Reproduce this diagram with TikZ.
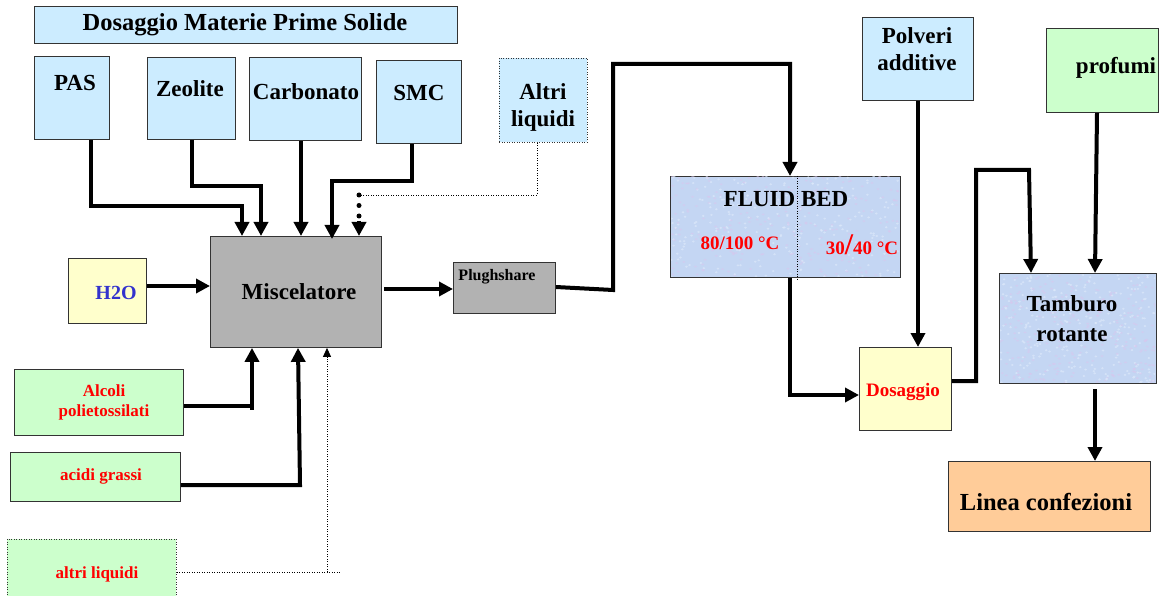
\documentclass[tikz,border=0pt]{standalone}
\usepackage{fontspec}
\setmainfont{Liberation Serif}
\usetikzlibrary{arrows.meta}

\definecolor{skyfill}{HTML}{CCECFF}
\definecolor{mintfill}{HTML}{CCFFCC}
\definecolor{creamfill}{HTML}{FFFFCC}
\definecolor{greyfill}{HTML}{B2B2B2}
\definecolor{peachfill}{HTML}{FFCC99}
\definecolor{bedfill}{HTML}{C4D6F3}
\definecolor{specklila}{HTML}{D9C6EE}
\definecolor{speckpale}{HTML}{DCE8FA}
\definecolor{edgegrey}{HTML}{333333}
\definecolor{waterblue}{HTML}{3333CC}
\definecolor{hotred}{HTML}{FF0000}

\tikzset{
  box/.style={rectangle, draw=edgegrey, line width=0.9pt, inner sep=0pt, anchor=north west},
  dotbox/.style={box, dash pattern=on 1pt off 1.5pt},
  lbl/.style={inner sep=0pt, font=\bfseries\fontsize{23}{27}\selectfont, align=center},
  smalllbl/.style={inner sep=0pt, font=\bfseries\fontsize{17}{20}\selectfont, align=center, text=hotred},
  pipe/.style={line width=4pt},
  flow/.style={line width=4pt, -{Triangle[length=14pt,width=14pt]}},
  thinflow/.style={line width=0.8pt, dash pattern=on 1pt off 1.5pt},
  fatdots/.style={line width=5pt, line cap=round, dash pattern=on 0pt off 10.5pt},
}

% speckled texture inside a rectangle: #1,#2 = top left, #3,#4 = size
\newcommand{\speckle}[4]{%
  \begin{scope}
    \clip (#1+1,#2+1) rectangle (#1+#3-1,#2+#4-1);
    \foreach \k in {1,...,260} {
      \pgfmathsetmacro{\sx}{#1+#3*rnd}
      \pgfmathsetmacro{\sy}{#2+#4*rnd}
      \fill[specklila, opacity=0.55] (\sx,\sy) ellipse (1.6 and 1.0);
      \pgfmathsetmacro{\tx}{#1+#3*rnd}
      \pgfmathsetmacro{\ty}{#2+#4*rnd}
      \fill[speckpale, opacity=0.7] (\tx,\ty) ellipse (1.4 and 1.1);
    }
  \end{scope}}

\begin{document}
\begin{tikzpicture}[x=1pt,y=-1pt]
\pgfmathsetseed{11}
\useasboundingbox (0,0) rectangle (1167,596);
\fill[white] (0,0) rectangle (1167,596);

% ---- solid raw materials ----
\node[box, fill=skyfill, minimum width=423, minimum height=37] (title) at (34,6) {};
\node[lbl, font=\bfseries\fontsize{24.5}{28}\selectfont] (title-t) at (245,25) {Dosaggio Materie Prime Solide};

\node[box, fill=skyfill, minimum width=75, minimum height=83] (pas) at (34,56) {};
\node[lbl] (pas-t) at (75,83) {PAS};
\node[box, fill=skyfill, minimum width=88, minimum height=82] (zeo) at (147,57) {};
\node[lbl] (zeo-t) at (190,89) {Zeolite};
\node[box, fill=skyfill, minimum width=112, minimum height=83] (carb) at (249,57) {};
\node[lbl] (carb-t) at (306,92) {Carbonato};
\node[box, fill=skyfill, minimum width=85, minimum height=83] (smc) at (376,60) {};
\node[lbl] (smc-t) at (419,93) {SMC};
\node[dotbox, fill=skyfill, minimum width=88, minimum height=84] (altri) at (499,58) {};
\node[lbl] (altri-t) at (543,107) {Altri\\liquidi};

% ---- mixer and liquids ----
\node[box, fill=greyfill, minimum width=171, minimum height=111] (mix) at (210,236) {};
\node[lbl] (mix-t) at (299,292) {Miscelatore};
\node[box, fill=creamfill, minimum width=78, minimum height=65] (h2o) at (68,258) {};
\node[lbl, font=\bfseries\fontsize{20}{24}\selectfont, text=waterblue] (h2o-t) at (116,293) {H2O};
\node[box, fill=greyfill, minimum width=102, minimum height=51] (plug) at (453,262) {};
\node[lbl, font=\bfseries\fontsize{16}{19}\selectfont] (plug-t) at (497,277) {Plughshare};

\node[box, fill=mintfill, minimum width=169, minimum height=66] (alc) at (14,369) {};
\node[smalllbl] (alc-t) at (104,402) {Alcoli\\polietossilati};
\node[box, fill=mintfill, minimum width=170, minimum height=49] (acid) at (10,452) {};
\node[smalllbl] (acid-t) at (101,476) {acidi grassi};
\node[dotbox, fill=mintfill, minimum width=169, minimum height=62] (altl) at (7,539) {};
\node[smalllbl] (altl-t) at (97,574) {altri liquidi};

% ---- drying and finishing ----
\node[box, fill=bedfill, minimum width=230, minimum height=101] (fb) at (670,176) {};
\speckle{670}{176}{230}{101}
\node[lbl] (fb-t) at (786,199) {FLUID BED};
\node[smalllbl, font=\bfseries\fontsize{19}{22}\selectfont] (fb-hot) at (740,243) {80/100 °C};
\node[smalllbl, font=\bfseries\fontsize{19}{22}\selectfont] (fb-cold) at (862,245) {30{\fontsize{30}{30}\selectfont/}40 °C};
\draw[thinflow] (797,176) -- (797,280);

\node[box, fill=skyfill, minimum width=111, minimum height=83] (pol) at (862,17) {};
\node[lbl] (pol-t) at (917,49) {Polveri\\additive};
\node[box, fill=mintfill, minimum width=112, minimum height=84] (prof) at (1046,28) {};
\node[lbl] (prof-t) at (1116,68) {profumi};
\node[box, fill=bedfill, minimum width=157, minimum height=110] (tam) at (999,273) {};
\speckle{999}{273}{157}{110}
\node[lbl, font=\bfseries\fontsize{23}{30}\selectfont] (tam-t) at (1072,319) {Tamburo\\rotante};
\node[box, fill=creamfill, minimum width=92, minimum height=83] (dos) at (859,347) {};
\node[smalllbl, font=\bfseries\fontsize{19}{22}\selectfont] (dos-t) at (903,392) {Dosaggio};
\node[box, fill=peachfill, minimum width=202, minimum height=70] (lin) at (948,461) {};
\node[lbl, font=\bfseries\fontsize{24.5}{28}\selectfont] (lin-t) at (1046,502) {Linea confezioni};

% ---- connectors ----
\coordinate (altriJoin) at (359,195);
\coordinate (dotEnd) at (359,221);
\coordinate (tamOut) at (1095,389);

\draw[flow] (91,0 |- pas.south) -- (91,206) -- (242,206) -- (242,0 |- mix.north);
\draw[flow] (192,0 |- zeo.south) -- (192,186) -- (261,186) -- (261,0 |- mix.north);
\draw[flow] (301,0 |- carb.south) -- (301,0 |- mix.north);
\draw[flow] (412,0 |- smc.south) -- (412,181) -- (332,181) -- (332,239);
\draw[thinflow] (537,0 |- altri.south) -- (537,195) -- (altriJoin);
\draw[fatdots] (altriJoin) -- (dotEnd);
\draw[flow] (dotEnd) -- (359,0 |- mix.north);

\draw[flow] (h2o.east |- 0,286) -- (mix.west |- 0,286);
\draw[flow] (384,289) -- (plug.west |- 0,289);

\draw[flow] (alc.east |- 0,406) -- (252,406) -- (252,0 |- mix.south);
\draw[pipe] (252,406) -- (252,410);
\draw[flow] (acid.east |- 0,485) -- (300,485) -- (298,0 |- mix.south);
\draw[thinflow] (altl.east |- 0,572) -- (340,572);
\draw[thinflow, -{Triangle[length=9pt,width=8pt]}] (327,572) -- (327,0 |- mix.south);

\draw[flow] (plug.east |- 0,287) -- (613,290) -- (613,64) -- (790,64) -- (790,0 |- fb.north);
\draw[flow] (790,0 |- fb.south) -- (790,395) -- (dos.west |- 0,395);
\draw[flow] (918,0 |- pol.south) -- (918,0 |- dos.north);
\draw[flow] (dos.east |- 0,381) -- (976,381) -- (976,170) -- (1029,170) -- (1031,0 |- tam.north);
\draw[flow] (1097,0 |- prof.south) -- (1095,0 |- tam.north);
\draw[flow] (tamOut) -- (1095,0 |- lin.north);
\end{tikzpicture}
\end{document}
